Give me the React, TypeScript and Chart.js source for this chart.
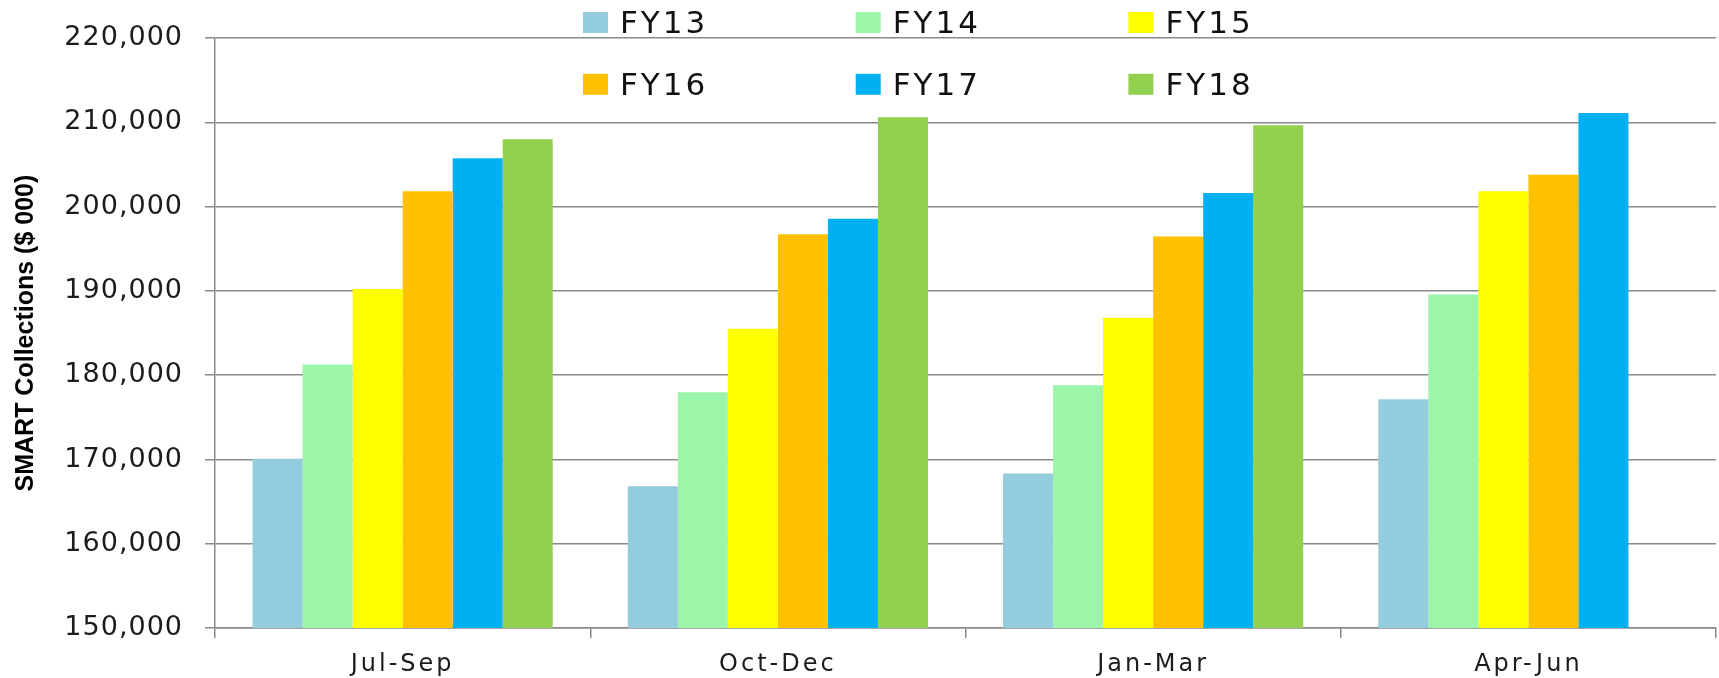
import React, { useEffect, useRef } from "react";
import { Chart, registerables, CategoryScale, LinearScale } from "chart.js";

Chart.register(...registerables);

// ---- Data ----
const categories = ["Jul-Sep", "Oct-Dec", "Jan-Mar", "Apr-Jun"];
const seriesLabels = ["FY13", "FY14", "FY15", "FY16", "FY17", "FY18"];
const fy13 = [170100, 166830, 168340, 177150];
const fy14 = [181260, 177970, 178800, 189590];
const fy15 = [190220, 185520, 186830, 201840];
const fy16 = [201840, 196740, 196470, 203780];
const fy17 = [205750, 198560, 201640, 211130];
const fy18 = [208000, 210610, 209670, null];
const seriesValues = [fy13, fy14, fy15, fy16, fy17, fy18];
const seriesColors = ["#93CDDD", "#9CF5A9", "#FFFF00", "#FFC000", "#00B0F0", "#92D050"];
const yTitle = "SMART Collections ($ 000)";
const yMin = 150000;
const yMax = 220000;
const yStep = 10000;

const GRID = "#8a8a8a";
const TEXT = "#1c1c1c";

class SpacedCategoryScale extends CategoryScale {
  static id = "spacedCategory";
  drawLabels(chartArea: any) {
    const ctx: any = this.ctx;
    ctx.save();
    ctx.letterSpacing = "3px";
    super.drawLabels(chartArea);
    ctx.restore();
  }
}

class SpacedLinearScale extends LinearScale {
  static id = "spacedLinear";
  drawLabels(chartArea: any) {
    const ctx: any = this.ctx;
    ctx.save();
    ctx.letterSpacing = "1px";
    super.drawLabels(chartArea);
    ctx.restore();
  }
}

Chart.register(SpacedCategoryScale as any, SpacedLinearScale as any);

const gridLegend = {
  id: "gridLegend",
  afterDraw(chart: any) {
    const ctx: any = chart.ctx;
    ctx.save();
    ctx.font = "31px 'DejaVu Sans'";
    ctx.letterSpacing = "3px";
    ctx.textAlign = "left";
    ctx.textBaseline = "alphabetic";
    chart.data.datasets.forEach((ds: any, i: number) => {
      const col = i % 3;
      const row = Math.floor(i / 3);
      const x = 583 + col * 272.7;
      const y = 12 + row * 61.8;
      ctx.fillStyle = ds.backgroundColor;
      ctx.fillRect(x, y, 25, 21);
      ctx.fillStyle = "#111";
      ctx.fillText(ds.label, x + 37, y + 21);
    });
    ctx.restore();
  },
};

export default function App() {
  const canvasRef = useRef<HTMLCanvasElement | null>(null);

  useEffect(() => {
    document.body.style.margin = "0";
    document.body.style.overflow = "hidden";
    const canvas = canvasRef.current;
    if (!canvas) return;
    const chart = new Chart(canvas, {
      type: "bar",
      data: {
        labels: categories,
        datasets: seriesLabels.map((label, i) => ({
          label,
          data: seriesValues[i],
          backgroundColor: seriesColors[i],
          borderWidth: 0,
          barPercentage: 1.0,
          categoryPercentage: 0.8,
        })),
      },
      options: {
        responsive: false,
        animation: false,
        layout: { padding: { top: 37, right: 3, left: 0, bottom: 0 } },
        plugins: {
          legend: { display: false },
          tooltip: { enabled: false },
        },
        scales: {
          x: {
            type: "spacedCategory" as any,
            offset: true,
            grid: {
              offset: true,
              drawOnChartArea: false,
              drawTicks: true,
              tickLength: 10,
              color: GRID,
              lineWidth: 1.5,
            },
            border: { color: GRID, width: 1.5 },
            ticks: {
              font: { family: "'DejaVu Sans'", size: 24 },
              color: TEXT,
              padding: 12,
              maxRotation: 0,
              autoSkip: false,
            },
            afterFit: (s: any) => {
              s.height = 50;
            },
          },
          y: {
            type: "spacedLinear" as any,
            min: yMin,
            max: yMax,
            ticks: {
              stepSize: yStep,
              font: { family: "'DejaVu Sans'", size: 27 },
              color: TEXT,
              padding: 22,
              callback: (v: any) => Number(v).toLocaleString("en-US"),
            },
            grid: { color: GRID, lineWidth: 1.5, tickLength: 10 },
            border: { color: GRID, width: 1.5 },
            title: {
              display: true,
              text: yTitle,
              font: { family: "'Liberation Sans'", size: 25, weight: "bold" },
              color: "#000",
              padding: { top: 11, bottom: 0 },
            },
            afterFit: (s: any) => {
              s.width = 215;
            },
          },
        },
      } as any,
      plugins: [gridLegend],
    });
    return () => chart.destroy();
  }, []);

  return (
    <div style={{ width: 1719, height: 678 }}>
      <canvas ref={canvasRef} width={1719} height={678} style={{ display: "block" }} />
    </div>
  );
}
